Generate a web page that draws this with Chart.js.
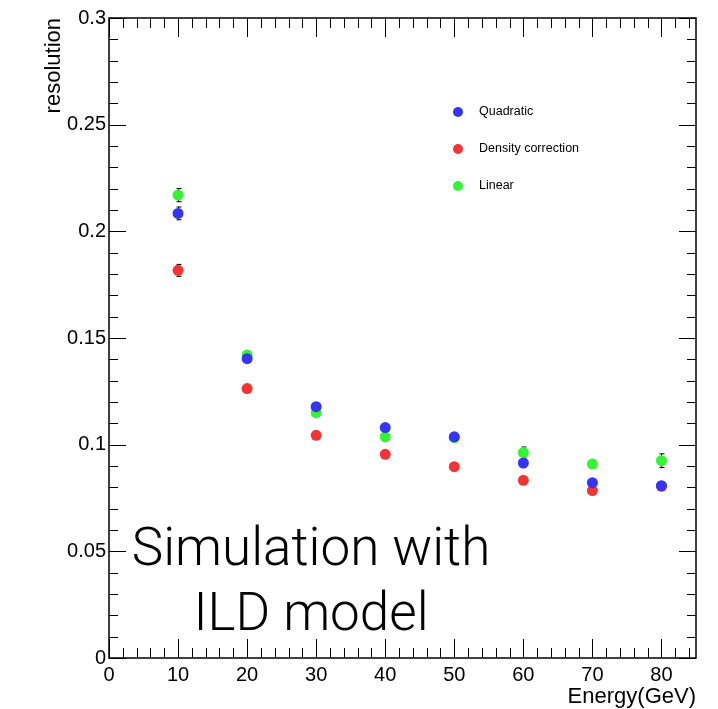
<!DOCTYPE html>
<html>
<head>
<meta charset="utf-8">
<script src="https://cdn.jsdelivr.net/npm/chart.js@4.4.1/dist/chart.umd.min.js"></script>
<style>
  html, body { margin: 0; padding: 0; background: #fff; }
  #wrap { width: 718px; height: 709px; }
</style>
</head>
<body>
<div id="wrap"><canvas id="chart" width="718" height="709"></canvas></div>
<script>
// energies in GeV
const energies = [10, 20, 30, 40, 50, 60, 70, 80];

// resolution per method
const quadratic = [0.2084, 0.1403, 0.1178, 0.1080, 0.1037, 0.0914, 0.0822, 0.0808];
const densityCorrection = [0.1817, 0.1263, 0.1044, 0.0955, 0.0897, 0.0833, 0.0785, 0.0805];
const linear = [0.2170, 0.1420, 0.1150, 0.1037, 0.1033, 0.0963, 0.0909, 0.0925];

// statistical errors (mostly hidden under the markers)
const quadraticErr = [0.0030, 0.0015, 0.0015, 0.0012, 0.0012, 0.0012, 0.0012, 0.0012];
const densityErr = [0.0028, 0.0012, 0.0010, 0.0010, 0.0010, 0.0010, 0.0010, 0.0010];
const linearErr = [0.0031, 0.0018, 0.0018, 0.0015, 0.0015, 0.0026, 0.0018, 0.0032];

const seriesNames = ["Quadratic", "Density correction", "Linear"];
const seriesColors = ["#3434f4", "#f43434", "#34f434"];

const xTickLabels = ["0", "10", "20", "30", "40", "50", "60", "70", "80"];
const yTickLabels = ["0", "0.05", "0.1", "0.15", "0.2", "0.25", "0.3"];

const axisFont = "'Liberation Sans', Arial, sans-serif";

function points(ys, errs) {
  return energies.map((e, i) => ({ x: e, y: ys[i], err: errs[i] }));
}

// error bars, drawn under the markers
const errorBars = {
  id: "errorBars",
  beforeDatasetsDraw(chart) {
    const ctx = chart.ctx;
    const ys = chart.scales.y;
    ctx.save();
    ctx.strokeStyle = "#000";
    ctx.lineWidth = 1;
    chart.data.datasets.forEach((ds, di) => {
      const meta = chart.getDatasetMeta(di);
      ds.data.forEach((p, i) => {
        const px = Math.round(meta.data[i].x) + 0.5;
        const top = ys.getPixelForValue(p.y + p.err);
        const bot = ys.getPixelForValue(p.y - p.err);
        ctx.beginPath();
        ctx.moveTo(px, top);
        ctx.lineTo(px, bot);
        ctx.moveTo(px - 2, top);
        ctx.lineTo(px + 3, top);
        ctx.moveTo(px - 2, bot);
        ctx.lineTo(px + 3, bot);
        ctx.stroke();
      });
    });
    ctx.restore();
  },
};

// ROOT style frame with inward ticks, titles, legend and label text
const rootFrame = {
  id: "rootFrame",
  afterDraw(chart) {
    const ctx = chart.ctx;
    const a = chart.chartArea;
    const xs = chart.scales.x;
    const ys = chart.scales.y;
    ctx.save();
    ctx.strokeStyle = "#000";
    ctx.lineWidth = 1.5;
    ctx.strokeRect(a.left, a.top, a.right - a.left, a.bottom - a.top);

    ctx.lineWidth = 1;
    for (let v = 0; v <= 85; v += 2) {
      const px = Math.round(xs.getPixelForValue(v)) + 0.5;
      const len = v % 10 === 0 ? 19 : 10;
      ctx.beginPath();
      ctx.moveTo(px, a.bottom);
      ctx.lineTo(px, a.bottom - len);
      ctx.moveTo(px, a.top);
      ctx.lineTo(px, a.top + len);
      ctx.stroke();
    }
    for (let k = 0; k <= 30; k++) {
      const py = Math.round(ys.getPixelForValue(k / 100)) + 0.5;
      const len = k % 5 === 0 ? 17 : 9;
      ctx.beginPath();
      ctx.moveTo(a.left, py);
      ctx.lineTo(a.left + len, py);
      ctx.moveTo(a.right, py);
      ctx.lineTo(a.right - len, py);
      ctx.stroke();
    }

    // axis titles
    ctx.fillStyle = "#000";
    ctx.font = "22px " + axisFont;
    ctx.textAlign = "right";
    ctx.textBaseline = "middle";
    ctx.fillText("Energy(GeV)", a.right, 697);
    ctx.save();
    ctx.translate(54, a.top);
    ctx.rotate(-Math.PI / 2);
    ctx.fillText("resolution", 0, 0);
    ctx.restore();

    // legend
    ctx.font = "12.5px " + axisFont;
    ctx.textAlign = "left";
    seriesNames.forEach((name, i) => {
      const y = 112 + i * 37;
      ctx.fillStyle = seriesColors[i];
      ctx.beginPath();
      ctx.arc(458, y, 5, 0, Math.PI * 2);
      ctx.fill();
      ctx.fillStyle = "#000";
      ctx.fillText(name, 479, y);
    });

    // annotation
    ctx.font = "300 53px Roboto, 'Open Sans', sans-serif";
    ctx.textAlign = "center";
    ctx.textBaseline = "alphabetic";
    ctx.fillText("Simulation with", 311, 565);
    ctx.fillText("ILD model", 311, 630);
    ctx.restore();
  },
};

const ctx = document.getElementById("chart").getContext("2d");
new Chart(ctx, {
  type: "scatter",
  data: {
    datasets: [
      { label: seriesNames[0], data: points(quadratic, quadraticErr), backgroundColor: seriesColors[0] },
      { label: seriesNames[1], data: points(densityCorrection, densityErr), backgroundColor: seriesColors[1] },
      { label: seriesNames[2], data: points(linear, linearErr), backgroundColor: seriesColors[2] },
    ],
  },
  options: {
    responsive: false,
    animation: false,
    layout: { padding: { top: 18, right: 22, left: 0, bottom: 0 } },
    elements: { point: { radius: 5.5, borderWidth: 0, hoverRadius: 5.5 } },
    plugins: { legend: { display: false }, tooltip: { enabled: false } },
    scales: {
      x: {
        type: "linear",
        min: 0,
        max: 85,
        grid: { display: false, tickLength: 0 },
        border: { display: false },
        afterFit: (s) => { s.height = 51; },
        afterBuildTicks: (s) => {
          s.ticks = xTickLabels.map((t) => ({ value: Number(t) }));
        },
        ticks: {
          color: "#000",
          padding: 5,
          maxRotation: 0,
          autoSkip: false,
          font: { family: axisFont, size: 20 },
          callback: (v) => String(v),
        },
      },
      y: {
        min: 0,
        max: 0.3,
        grid: { display: false, tickLength: 0 },
        border: { display: false },
        afterFit: (s) => { s.width = 109; },
        afterBuildTicks: (s) => {
          s.ticks = yTickLabels.map((t) => ({ value: Number(t) }));
        },
        ticks: {
          color: "#000",
          padding: 3,
          autoSkip: false,
          font: { family: axisFont, size: 20 },
          callback: (v) => yTickLabels.find((t) => Math.abs(Number(t) - v) < 1e-9),
        },
      },
    },
  },
  plugins: [errorBars, rootFrame],
});
</script>
</body>
</html>
